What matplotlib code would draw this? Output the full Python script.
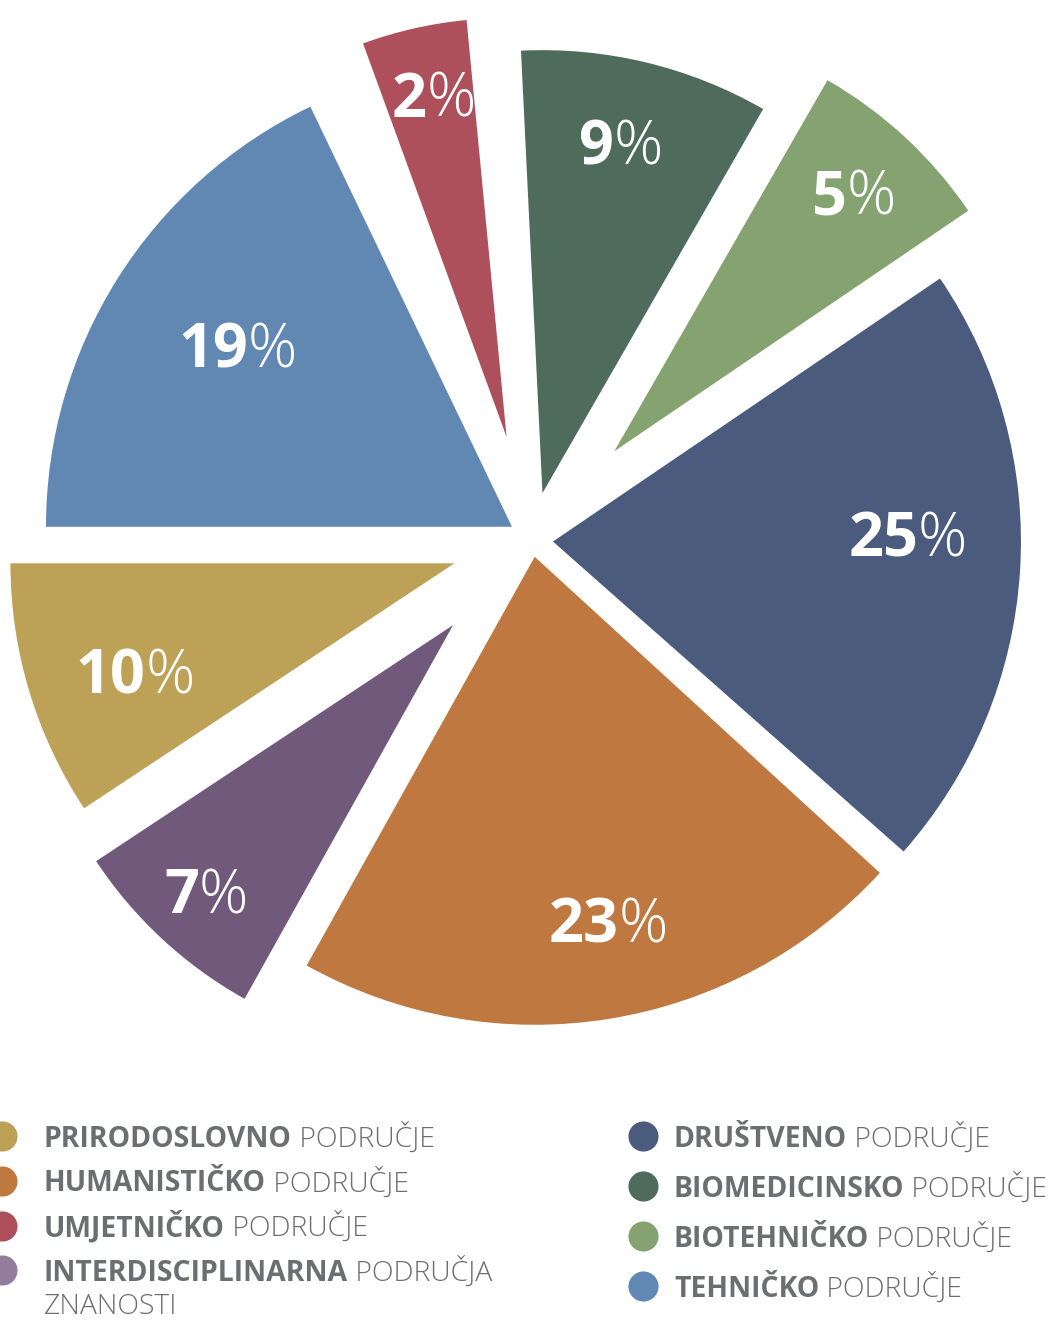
import matplotlib
matplotlib.use("Agg")
import matplotlib.pyplot as plt
import numpy as np

plt.rcParams['font.family'] = ['Open Sans', 'DejaVu Sans']

# slices, clockwise from 9 o'clock
pct_labels = ['19', '2', '9', '5', '25', '23', '7', '10']
# share of the circle each slice really takes in the drawing (the printed % differ a bit)
slice_shares = [18.6, 5.1, 9.6, 7.2, 21.3, 21.3, 7.6, 9.3]
slice_colors = ['#6187b3', '#ae505c', '#4e6b5b', '#84a370',
                '#4b5b7e', '#c07841', '#70597b', '#bda157']

# legend, left column first
legend_bold = ['PRIRODOSLOVNO', 'HUMANISTIČKO', 'UMJETNIČKO', 'INTERDISCIPLINARNA',
               'DRUŠTVENO', 'BIOMEDICINSKO', 'BIOTEHNIČKO', 'TEHNIČKO']
legend_rest = ['PODRUČJE', 'PODRUČJE', 'PODRUČJE', 'PODRUČJA\nZNANOSTI',
               'PODRUČJE', 'PODRUČJE', 'PODRUČJE', 'PODRUČJE']
legend_colors = ['#bda157', '#c07841', '#ae505c', '#937d9d',
                 '#4b5b7e', '#4e6b5b', '#84a370', '#6187b3']

# styling (pixels, axes = figure pixels)
explode = [24, 106, 48, 121, 21, 17, 116, 81]
radii = [466, 419, 443, 428, 468, 468, 428, 444]
trim_lo = [2.6, 0.8, 0, 0, 1.0, 0, 0, 0]   # degrees shaved off each side (white gaps)
trim_hi = [0, 3.0, 1.9, 0, 0, 0, 0, 0]
label_dist = [329, 350, 359, 353, 355, 371, 363, 337]
label_turn = [0, -1.9, 0, 0, 5.3, 2.3, 0, 2.0]
center = (532, 780)

fig = plt.figure(figsize=(10.56, 13.2), dpi=100)
ax = fig.add_axes([0, 0, 1, 1])

wedges, _ = ax.pie(slice_shares, colors=slice_colors, explode=explode, radius=466,
                   center=center, startangle=180, counterclock=False)

ax.set_xlim(0, 1056)
ax.set_ylim(0, 1320)
ax.set_aspect('equal')
ax.axis('off')

renderer = fig.canvas.get_renderer()
for i, w in enumerate(wedges):
    mid = np.deg2rad((w.theta1 + w.theta2) / 2 + label_turn[i])
    w.set_radius(radii[i])
    w.set_theta1(w.theta1 + trim_lo[i])
    w.set_theta2(w.theta2 - trim_hi[i])
    xc = w.center[0] + label_dist[i] * np.cos(mid)
    yc = w.center[1] + label_dist[i] * np.sin(mid)
    t1 = ax.text(xc, yc - 22, pct_labels[i], fontsize=44, fontweight='bold', color='white',
                 ha='left', va='baseline')
    t2 = ax.annotate('%', xy=(1, 0), xycoords=t1, fontsize=44, fontweight='light',
                     color='white', ha='left', va='bottom')
    w1 = t1.get_window_extent(renderer).width
    w2 = t2.get_window_extent(renderer).width
    t1.set_x(xc - (w1 + w2) / 2)

# legend drawn by hand: bold name + light rest
text_gray = '#6d6e71'
col_dot_x = [2, 642.5]
col_text_x = [44, 674]
col_pitch = [44.7, 50]
first_base = 1320 - 1146.7
fs = 20.4
for i, (b, rest, c) in enumerate(zip(legend_bold, legend_rest, legend_colors)):
    col, row = divmod(i, 4)
    yb = first_base - row * col_pitch[col]
    ax.scatter(col_dot_x[col], yb + 10.5, s=470, color=c, linewidths=0, clip_on=False)
    tb = ax.text(col_text_x[col], yb, b, fontsize=fs, fontweight='bold',
                 color=text_gray, ha='left', va='baseline')
    lines = rest.split('\n')
    ax.annotate(' ' + lines[0], xy=(1, 0), xycoords=tb, fontsize=fs,
                fontweight='light', color=text_gray, ha='left', va='bottom')
    for k, extra in enumerate(lines[1:], start=1):
        ax.text(col_text_x[col], yb - k * 33, extra, fontsize=fs, fontweight='light',
                color=text_gray, ha='left', va='baseline')

fig.savefig('out.png', dpi=100)
